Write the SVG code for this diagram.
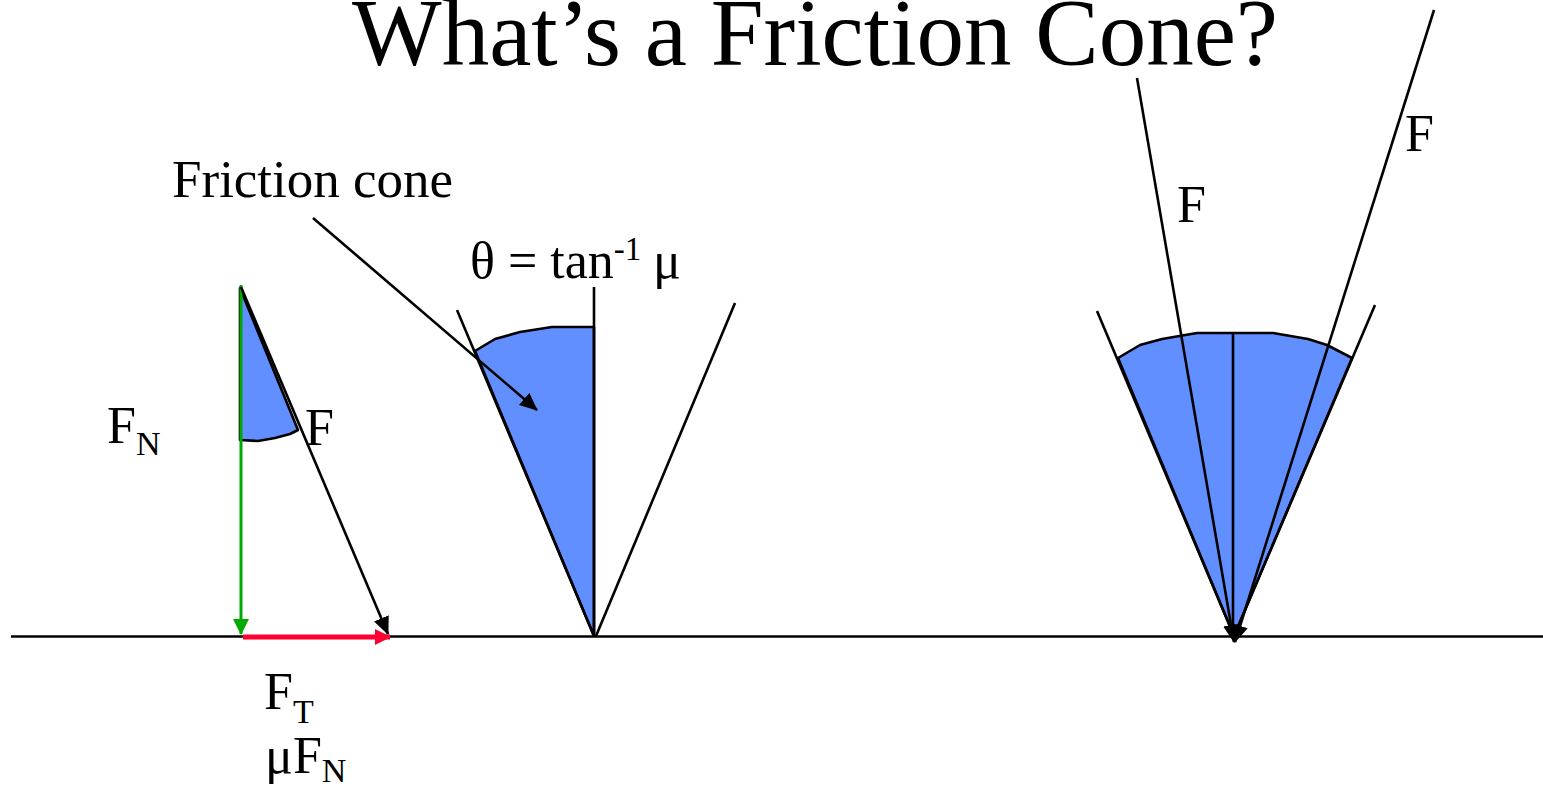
<svg xmlns="http://www.w3.org/2000/svg" width="1543" height="789" viewBox="0 0 1543 789">
<style>
.t{font-family:"Liberation Serif","Times New Roman",serif;fill:#000}
.ln{stroke:#000;stroke-width:2.6;fill:none}
.sec{fill:#618fff;stroke:#000;stroke-width:2.6;stroke-linejoin:round}
</style>
<defs>
<marker id="ab" markerUnits="userSpaceOnUse" markerWidth="18" markerHeight="16" refX="17" refY="8" orient="auto"><path d="M0,0 L18,8 L0,16 z" fill="#000"/></marker>
<marker id="ag" markerUnits="userSpaceOnUse" markerWidth="16" markerHeight="16" refX="15" refY="8" orient="auto"><path d="M0,0 L16,8 L0,16 z" fill="#00aa00"/></marker>
<marker id="ar" markerUnits="userSpaceOnUse" markerWidth="16" markerHeight="16" refX="15" refY="8" orient="auto"><path d="M0,0 L16,8 L0,16 z" fill="#ff0033"/></marker>
</defs>
<rect width="1543" height="789" fill="#fff"/>
<text class="t" x="352" y="65" font-size="95">What’s a Friction Cone?</text>
<g id="ground"><line class="ln" x1="11" y1="636.5" x2="1543" y2="636.5"/></g>
<g id="left-triangle">
<path class="sec" d="M240,288 L240,440 L258,441 L275,438 L290,434 L298,430 Z"/>
<text class="t" x="107" y="443" font-size="52">F<tspan font-size="34" dy="12">N</tspan></text>
<text class="t" x="305" y="445" font-size="52">F</text>
<text class="t" x="264" y="709" font-size="52">F<tspan font-size="34" dy="14">T</tspan></text>
<text class="t" x="265" y="773" font-size="52">μF<tspan font-size="34" dy="9">N</tspan></text>
</g>
<g id="middle-cone">
<path class="sec" d="M594,636 L475,351 L495,339 L520,332 L552,327 L594,327 Z"/>
<line class="ln" x1="457" y1="310" x2="594" y2="636"/>
<line class="ln" x1="735" y1="303" x2="596" y2="636"/>
<line class="ln" x1="594" y1="287" x2="594" y2="636"/>
<text class="t" x="470" y="278" font-size="52">θ = tan<tspan font-size="33" dy="-18">-1</tspan><tspan dy="18" x="653">μ</tspan></text>
<text class="t" x="172" y="197" font-size="53">Friction cone</text>
</g>
<g id="right-cone">
<path class="sec" d="M1234,636 L1118,358 L1140,345 L1162,339 L1197,333 L1233,333 L1273,333 L1308,339 L1327,345 L1352,358 Z" stroke-width="3.5"/>
<line class="ln" x1="1097" y1="311" x2="1234" y2="636"/>
<line class="ln" x1="1375" y1="305" x2="1234" y2="636"/>
<line class="ln" x1="1233" y1="333" x2="1233" y2="636"/>
<text class="t" x="1177" y="222" font-size="52">F</text>
<text class="t" x="1405" y="151" font-size="52">F</text>
</g>
<g id="connectors">
<line x1="241" y1="285" x2="241" y2="634" stroke="#00aa00" stroke-width="3" marker-end="url(#ag)"/>
<line x1="243" y1="637" x2="390" y2="637" stroke="#ff0033" stroke-width="5" marker-end="url(#ar)"/>
<line class="ln" x1="241" y1="287" x2="388" y2="634" marker-end="url(#ab)"/>
<line class="ln" x1="313" y1="218" x2="537" y2="410" marker-end="url(#ab)"/>
<line class="ln" x1="1137" y1="78" x2="1234" y2="642" marker-end="url(#ab)"/>
<line class="ln" x1="1434" y1="10" x2="1235" y2="642" marker-end="url(#ab)"/>
</g>
</svg>
